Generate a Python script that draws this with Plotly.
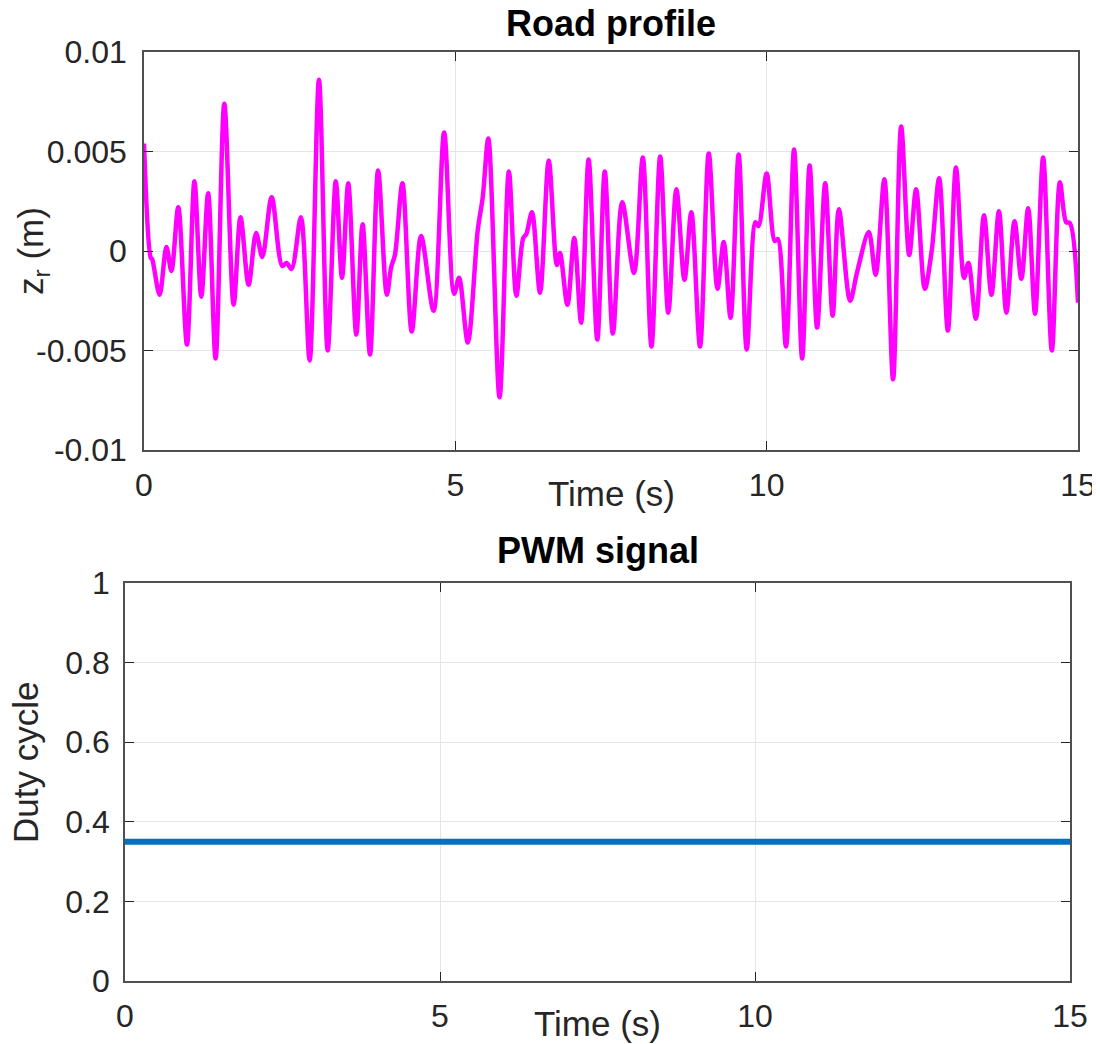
import plotly.graph_objects as go

# ---- data ----
t_road = [0.00, 0.11, 0.13, 0.25, 0.36, 0.44, 0.55, 0.69, 0.81, 0.92, 1.03, 1.15, 1.29, 1.44, 1.55,
          1.68, 1.80, 1.90, 2.05, 2.22, 2.29, 2.37, 2.52, 2.66, 2.81, 2.95, 3.08, 3.18, 3.28, 3.41,
          3.51, 3.63, 3.76, 3.90, 3.97, 4.03, 4.15, 4.30, 4.45, 4.65, 4.82, 4.98, 5.06, 5.20, 5.36,
          5.44, 5.53, 5.71, 5.86, 5.98, 6.09, 6.14, 6.23, 6.36, 6.50, 6.63, 6.68, 6.80, 6.91, 7.02,
          7.14, 7.28, 7.40, 7.53, 7.68, 7.87, 8.01, 8.15, 8.29, 8.42, 8.55, 8.68, 8.79, 8.93, 9.07,
          9.21, 9.31, 9.42, 9.55, 9.68, 9.82, 9.87, 10.00, 10.13, 10.18, 10.31, 10.44, 10.57, 10.69,
          10.81, 10.94, 11.06, 11.16, 11.34, 11.45, 11.64, 11.75, 11.89, 12.03, 12.16, 12.29, 12.40,
          12.54, 12.65, 12.77, 12.91, 13.04, 13.17, 13.24, 13.36, 13.49, 13.61, 13.73, 13.85, 13.98,
          14.09, 14.20, 14.31, 14.44, 14.58, 14.71, 14.81, 14.87, 15.00]
z_road = [0.0054, -0.00035, -0.0004, -0.0022, 0.0002, -0.0010, 0.0022, -0.0047, 0.0035, -0.0023,
          0.0029, -0.0054, 0.0074, -0.0027, 0.0017, -0.0017, 0.0009, -0.0003, 0.0027, -0.00075,
          -0.0006, -0.0009, 0.0017, -0.0055, 0.0086, -0.0050, 0.0035, -0.00135, 0.0034, -0.0042,
          0.00135, -0.0052, 0.00405, -0.0022, -0.0008, -0.0002, 0.0034, -0.00405, 0.00075, -0.0030,
          0.00595, -0.00215, -0.00135, -0.0046, 0.00105, 0.0027, 0.00565, -0.00735, 0.0040, -0.00225,
          0.00065, 0.00085, 0.00195, -0.0021, 0.00455, -0.0007, -0.0001, -0.0027, 0.00065, -0.0036,
          0.0046, -0.00445, 0.0040, -0.00415, 0.00245, -0.0011, 0.0047, -0.0048, 0.00475, -0.0031,
          0.0031, -0.00145, 0.00195, -0.0048, 0.0049, -0.0019, 0.00045, -0.00335, 0.00485, -0.00495,
          0.00145, 0.00125, 0.0039, 0.0005, 0.0006, -0.0048, 0.0051, -0.0054, 0.0043, -0.00385,
          0.0034, -0.00325, 0.0021, -0.0025, -0.0011, 0.00095, -0.0012, 0.0036, -0.00645, 0.00625,
          -0.0002, 0.0031, -0.0019, 0.0000, 0.00365, -0.0040, 0.0042, -0.00135, -0.0006, -0.0034,
          0.0018, -0.0022, 0.0020, -0.0031, 0.0015, -0.0014, 0.00215, -0.00315, 0.0047, -0.0050,
          0.00345, 0.00145, 0.0014, -0.0026]

t_pwm = [0, 15]
duty = [0.35, 0.35]

x_ticks = [0, 5, 10, 15]
z_ticks = [-0.01, -0.005, 0, 0.005, 0.01]
z_tick_text = ["-0.01", "-0.005", "0", "0.005", "0.01"]
d_ticks = [0, 0.2, 0.4, 0.6, 0.8, 1]
d_tick_text = ["0", "0.2", "0.4", "0.6", "0.8", "1"]

FONT = "Liberation Sans, Arial, Helvetica, sans-serif"
TXT = "#262626"
AX = "#505050"
GRID = "#e5e5e5"

# page body adds an 8px offset; work in screen pixels and convert
OFF = 8
W, H = 1100 - OFF, 1044 - OFF


def px(x):
    return (x - OFF) / W


def py(y):
    return 1 - (y - OFF) / H


fig = go.Figure()
fig.add_trace(go.Scatter(x=t_road, y=z_road, mode="lines",
                         line=dict(color="#ff00ff", width=4.5, shape="spline", smoothing=0.9),
                         xaxis="x", yaxis="y", showlegend=False))
fig.add_trace(go.Scatter(x=t_pwm, y=duty, mode="lines",
                         line=dict(color="#0072BD", width=6),
                         xaxis="x2", yaxis="y2", showlegend=False))

common = dict(showline=True, linecolor=AX, linewidth=1.5, mirror="ticks", ticks="inside",
              ticklen=9, tickcolor="#262626", tickwidth=1.2, showgrid=True, gridcolor=GRID, gridwidth=1,
              zeroline=False, automargin=False,
              tickfont=dict(family=FONT, size=32, color=TXT))

fig.update_layout(
    width=W, height=H,
    margin=dict(l=0, r=0, t=0, b=0),
    paper_bgcolor="white", plot_bgcolor="white",
    xaxis=dict(domain=[px(144), px(1078)], range=[0, 15], tickvals=x_ticks,
               anchor="y", ticklabelstandoff=6, **common),
    yaxis=dict(domain=[py(450), py(52)], range=[-0.01, 0.01], tickvals=z_ticks,
               ticktext=z_tick_text, anchor="x", ticklabelstandoff=9, **common),
    xaxis2=dict(domain=[px(125), px(1070)], range=[0, 15], tickvals=x_ticks,
                anchor="y2", ticklabelstandoff=6, **common),
    yaxis2=dict(domain=[py(981), py(583)], range=[0, 1], tickvals=d_ticks,
                ticktext=d_tick_text, anchor="x2", ticklabelstandoff=7, **common),
)

ann = [
    dict(text="<b>Road profile</b>", x=611, y=24, size=36, angle=0),
    dict(text="<b>PWM signal</b>", x=597.5, y=550, size=36, angle=0),
    dict(text="Time (s)", x=611, y=493, size=35, angle=0),
    dict(text="Time (s)", x=597.5, y=1023, size=35, angle=0),
    dict(text="z<sub>r</sub> (m)", x=33, y=251, size=35, angle=-90),
    dict(text="Duty cycle", x=25, y=763, size=35, angle=-90),
]
for a in ann:
    fig.add_annotation(text=a["text"], x=px(a["x"]), y=py(a["y"]), xref="paper", yref="paper",
                       xanchor="center", yanchor="middle", showarrow=False, textangle=a["angle"],
                       font=dict(family=FONT, size=a["size"], color="black" if "<b>" in a["text"] else TXT))

fig.write_html("out.html")
